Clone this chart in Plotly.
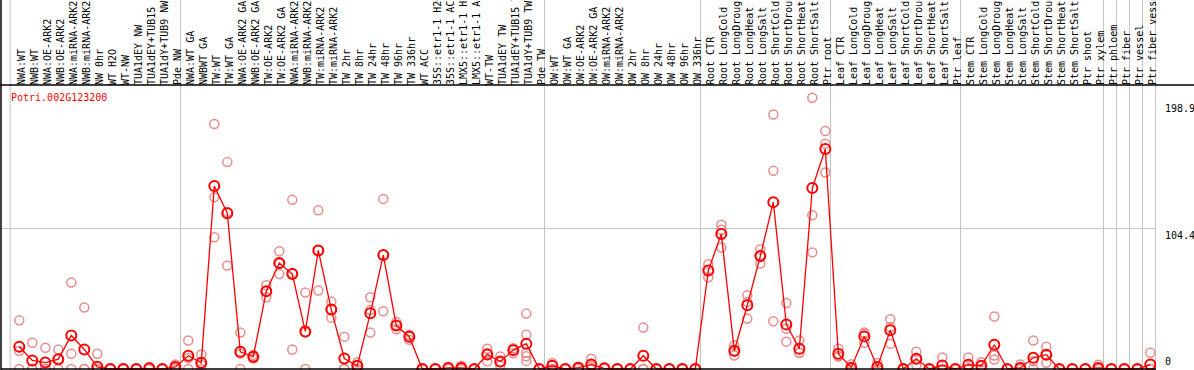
import plotly.graph_objects as go

title_text = "Potri.002G123200"

categories = [
    "NWA:WT", "NWB:WT", "NWA:OE-ARK2", "NWB:OE-ARK2", "NWA:miRNA-ARK2", "NWB:miRNA-ARK2",
    "NW 0hr", "WT H2O", "WT-NW", "TUA1dEY NW", "TUA1dEY+TUB15 NW", "TUA1dY+TUB9 NW", "Pde NW",
    "NWA:WT GA", "NWBWT GA", "TW:WT", "TW:WT GA", "NWA:OE-ARK2 GA", "NWB:OE-ARK2 GA",
    "TW:OE-ARK2", "TW:OE-ARK2 GA", "NWA:miRNA-ARK2", "NWB:miRNA-ARK2", "TW:miRNA-ARK2",
    "TW:miRNA-ARK2", "TW 2hr", "TW 8hr", "TW 24hr", "TW 48hr", "TW 96hr", "TW 336hr",
    "WT ACC", "35S::etr1-1 H2O", "35S::etr1-1 ACC", "LMX5::etr1-1 H2O", "LMX5::etr1-1 ACC",
    "WT-TW", "TUA1dEY TW", "TUA1dEY+TUB15 TW", "TUA1dY+TUB9 TW", "Pde TW",
    "OW:WT", "OW:WT GA", "OW:OE-ARK2", "OW:OE-ARK2 GA", "OW:miRNA-ARK2", "OW:miRNA-ARK2",
    "OW 2hr", "OW 8hr", "OW 24hr", "OW 48hr", "OW 96hr", "OW 336hr",
    "Root CTR", "Root LongCold", "Root LongDrought", "Root LongHeat", "Root LongSalt",
    "Root ShortCold", "Root ShortDrought", "Root ShortHeat", "Root ShortSalt", "Ptr root",
    "Leaf CTR", "Leaf LongCold", "Leaf LongDrought", "Leaf LongHeat", "Leaf LongSalt",
    "Leaf ShortCold", "Leaf ShortDrought", "Leaf ShortHeat", "Leaf ShortSalt", "Ptr leaf",
    "Stem CTR", "Stem LongCold", "Stem LongDrought", "Stem LongHeat", "Stem LongSalt",
    "Stem ShortCold", "Stem ShortDrought", "Stem ShortHeat", "Stem ShortSalt", "Ptr shoot",
    "Ptr xylem", "Ptr phloem", "Ptr fiber", "Ptr vessel", "Ptr fiber vessel",
]

mean_values = [
    16.5, 6.3, 4.8, 7.3, 24.9, 14.5, 1.6, 0, 0, 0, 0.5, 0, 1.5,
    9.8, 4.6, 135.7, 115.6, 12.8, 9.1, 57.7, 78.6, 70.4, 27.9, 88.0,
    44.1, 7.8, 2.4, 41.3, 84.5, 32.2, 24.0,
    0, 0, 0.8, 0.8, 0, 10.8, 5.6, 14.0, 18.8, 0,
    2.4, 0, 1.0, 3.3, 0.5, 0, 0, 9.8, 0, 0, 0, 0,
    73.1, 100.2, 13.5, 47.3, 83.8, 123.8, 33.1, 15.0, 134.2, 163.2,
    11.3, 1.0, 24.2, 1.5, 28.7, 0, 7.6, 0, 2.6, 0,
    3.1, 2.4, 18.0, 0, 0.8, 8.3, 10.6, 0, 0, 0,
    0.8, 0, 0, 0, 3.3,
]

replicate_values = [
    [36.1, 13.3, 0], [19.5, 0, 0], [15.8, 0, 0], [14.5, 7.4, 0], [64.2, 11.3, 0],
    [45.6, 0, 0], [11.3, 0, 0], [0, 0, 0], [0, 0, 0], [0, 0, 0], [1.5, 0, 0], [0, 0, 0],
    [3.3, 1.0, 0], [21.2, 8.2, 0], [10.8, 3.0, 0], [181.8, 127.5, 97.7],
    [153.5, 116.5, 76.8], [27.0, 11.4, 0], [10.5, 9.1, 7.7], [62.2, 57.7, 53.2],
    [87.3, 78.1, 70.4], [125.5, 71.2, 14.5], [56.7, 27.0, 0], [117.8, 88.0, 58.2],
    [50.0, 44.2, 38.1], [24.0, 0, 0], [4.8, 2.4, 0], [53.2, 43.7, 27.0],
    [126.2, 84.5, 42.8], [34.8, 32.4, 29.4], [25.5, 24.8, 21.7],
    [0, 0, 0], [0, 0, 0], [1.5, 0.8, 0], [2.4, 0, 0], [0, 0, 0],
    [15.0, 11.6, 5.8], [9.3, 5.1, 2.4], [15.0, 15.4, 11.6], [41.1, 25.5, 12.0, 9.5, 6.0],
    [0, 0, 0], [4.5, 2.7, 0], [0, 0, 0], [1.5, 1.5, 0], [7.6, 2.3, 0], [1.0, 0.5, 0],
    [0, 0, 0], [0, 0, 0], [30.7, 0, 0], [0, 0, 0], [0, 0, 0], [0, 0, 0], [0, 0, 0],
    [77.8, 73.4, 68.1], [107.1, 103.3, 90.2], [17.5, 13.0, 10.0], [54.7, 49.8, 37.4],
    [88.8, 84.3, 78.3], [188.8, 147.0, 35.4], [49.0, 29.9, 20.3], [21.2, 12.0, 11.8],
    [201.2, 114.1, 86.5], [176.6, 167.2, 145.8],
    [15.0, 9.5, 9.4], [3.5, 0, 0], [27.0, 26.1, 19.5], [4.5, 0, 0], [36.9, 31.1, 18.8],
    [0, 0, 0], [12.8, 7.2, 2.8], [0, 0, 0], [8.6, 0, 0], [0, 0, 0],
    [8.6, 0.8, 0], [5.0, 2.2, 0], [38.9, 10.0, 7.0], [0, 0, 0], [3.3, 0, 0],
    [21.2, 5.8, 0], [16.5, 10.7, 4.6], [0, 0, 0], [0, 0, 0], [0, 0, 0],
    [3.2, 0, 0], [0, 0, 0], [0, 0, 0], [0, 0, 0], [12.0, 0, 0],
]

group_separators = [-0.7, 12.4, 40.4, 52.4, 62.4, 72.4, 83.4, 84.4, 85.4, 86.4, 87.4]
y_tick_values = [0, 104.4, 198.9]
y_tick_labels = ["0", "104.4", "198.9"]

x_index = list(range(len(categories)))
rep_x = [i for i, reps in enumerate(replicate_values) for _ in reps]
rep_y = [v for reps in replicate_values for v in reps]

X_RANGE = [-1.408, 87.438]
Y_RANGE = [-0.742, 210.7]
FONT = "DejaVu Sans Mono"

fig = go.Figure()
fig.add_trace(go.Scatter(
    x=rep_x, y=rep_y, mode="markers",
    marker=dict(symbol="circle-open", size=9, color="rgb(235,140,140)", line=dict(width=1.5)),
    hoverinfo="skip", showlegend=False,
))
fig.add_trace(go.Scatter(
    x=x_index, y=mean_values, mode="lines+markers",
    line=dict(color="#ff0000", width=1.3),
    marker=dict(symbol="circle-open", size=10, color="#ff0000", line=dict(width=2)),
    showlegend=False,
))

def xp(v):
    return (v - X_RANGE[0]) / (X_RANGE[1] - X_RANGE[0])

shapes = []
for s in group_separators:
    shapes.append(dict(type="line", xref="paper", yref="paper", x0=xp(s), x1=xp(s),
                       y0=-0.01, y1=1.31, line=dict(color="#c4c4c4", width=1), layer="below"))
# frame lines
shapes.append(dict(type="line", xref="paper", yref="paper", x0=-0.01, x1=1.05, y0=1, y1=1,
                   line=dict(color="black", width=1.5)))
shapes.append(dict(type="line", xref="paper", yref="paper", x0=0, x1=0, y0=-0.01, y1=1.31,
                   line=dict(color="black", width=1.5)))
shapes.append(dict(type="line", xref="paper", yref="y", x0=0, x1=1, y0=0, y1=0,
                   line=dict(color="black", width=1.5)))

annotations = [dict(text=title_text, xref="paper", yref="paper", x=xp(X_RANGE[0]) + 8 / 1155,
                    y=(370 - 97) / 285, xanchor="left", yanchor="middle", showarrow=False,
                    font=dict(family=FONT, size=10, color="#ff0000"))]
for v, t in zip(y_tick_values, y_tick_labels):
    annotations.append(dict(text=t, xref="paper", yref="y", x=1 + 7 / 1155, y=v,
                            xanchor="left", yanchor="bottom" if v == 0 else "top",
                            showarrow=False, font=dict(family=FONT, size=10, color="black")))

fig.update_layout(
    width=1194, height=370,
    margin=dict(l=1, r=38, t=85, b=0, pad=0, autoexpand=False),
    paper_bgcolor="white", plot_bgcolor="white",
    xaxis=dict(range=X_RANGE, side="top", tickmode="array", tickvals=x_index, ticktext=categories,
               tickangle=-90, tickfont=dict(family=FONT, size=10, color="black"),
               ticklabelshift=2, ticklabelstandoff=-1,
               showgrid=False, zeroline=False, showline=False, ticks="", automargin=False),
    yaxis=dict(range=Y_RANGE, tickmode="array", tickvals=[104.4], showticklabels=False,
               showgrid=True, gridcolor="#c4c4c4", gridwidth=1, zeroline=False, showline=False,
               ticks="", automargin=False),
    shapes=shapes, annotations=annotations,
)

fig.write_html("out.html", config={"displayModeBar": False},
               post_script="document.body.style.margin='0';")
